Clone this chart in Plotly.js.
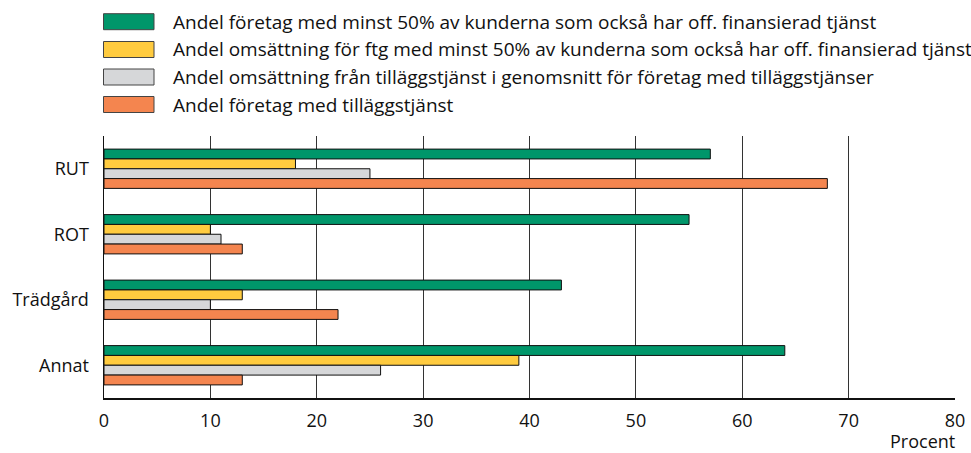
<!DOCTYPE html>
<html><head><meta charset="utf-8">
<script src="https://cdn.plot.ly/plotly-3.0.1.min.js"></script>
<style>body{margin:0;background:#fff}#c{width:971px;height:453px}</style>
</head><body><div id="c"></div>
<script>
const categories = ["RUT", "ROT", "Trädgård", "Annat"];
const seriesNames = [
  "Andel företag med minst 50% av kunderna som också har off. finansierad tjänst",
  "Andel omsättning för ftg med minst 50% av kunderna som också har off. finansierad tjänst",
  "Andel omsättning från tilläggstjänst i genomsnitt för företag med tilläggstjänser",
  "Andel företag med tilläggstjänst"
];
const greenVals  = [57, 55, 43, 64];
const yellowVals = [18, 10, 13, 39];
const grayVals   = [25, 11, 10, 26];
const orangeVals = [68, 13, 22, 13];
const xTicks = [0, 10, 20, 30, 40, 50, 60, 70, 80];
const xUnit = "Procent";

const colors = ["#00966A", "#FFCB3F", "#D6D7D9", "#F4854F"];
const values = [greenVals, yellowVals, grayVals, orangeVals];
const FONT = "'Open Sans', sans-serif";

const W = 971, H = 453;
const L = 104, R = 955, T = 136, B = 398;
const px2x = p => (p - L) / (R - L);
const px2y = p => (B - p) / (B - T);

const traces = values.map((v, i) => ({
  type: "bar", orientation: "h",
  x: v, y: categories, name: seriesNames[i],
  marker: {color: colors[i], line: {color: "#111", width: 1}},
  hoverinfo: "x+y", showlegend: false
}));

const shapes = [], annotations = [];
const rowY = [21.7, 49.5, 77, 104.5];
seriesNames.forEach((n, i) => {
  shapes.push({type: "rect", xref: "paper", yref: "paper",
    x0: px2x(103.5), x1: px2x(154), y0: px2y(rowY[i] - 8), y1: px2y(rowY[i] + 8),
    fillcolor: colors[i], line: {color: "#444", width: 1}});
  annotations.push({xref: "paper", yref: "paper", x: px2x(171), y: px2y(rowY[i]),
    xanchor: "left", yanchor: "middle", showarrow: false, text: n,
    font: {family: FONT, size: 19, color: "#111"}});
});
annotations.push({xref: "paper", yref: "paper", x: px2x(957), y: px2y(441),
  xanchor: "right", yanchor: "middle", showarrow: false, text: xUnit,
  font: {family: FONT, size: 18, color: "#111"}});

const layout = {
  width: W, height: H,
  margin: {l: L, r: W - R, t: T, b: H - B, pad: 0},
  paper_bgcolor: "#fff", plot_bgcolor: "#fff",
  barmode: "group", bargap: 0.4, bargroupgap: 0,
  font: {family: FONT, size: 18, color: "#111"},
  xaxis: {range: [0, 80], tickvals: xTicks, ticktext: xTicks.map(String),
    showgrid: true, gridcolor: "#333", gridwidth: 1, zeroline: false,
    showline: true, linecolor: "#111", linewidth: 1.5, ticks: "", ticklabelstandoff: 6,
    tickfont: {family: FONT, size: 18, color: "#111"}, fixedrange: true},
  yaxis: {autorange: "reversed", showgrid: false, zeroline: false,
    showline: true, linecolor: "#111", linewidth: 1.5, ticks: "", ticklabelstandoff: 10,
    tickfont: {family: FONT, size: 18, color: "#111"}, fixedrange: true},
  shapes: shapes, annotations: annotations, showlegend: false
};
Plotly.newPlot("c", traces, layout, {displayModeBar: false, staticPlot: true});
</script></body></html>
